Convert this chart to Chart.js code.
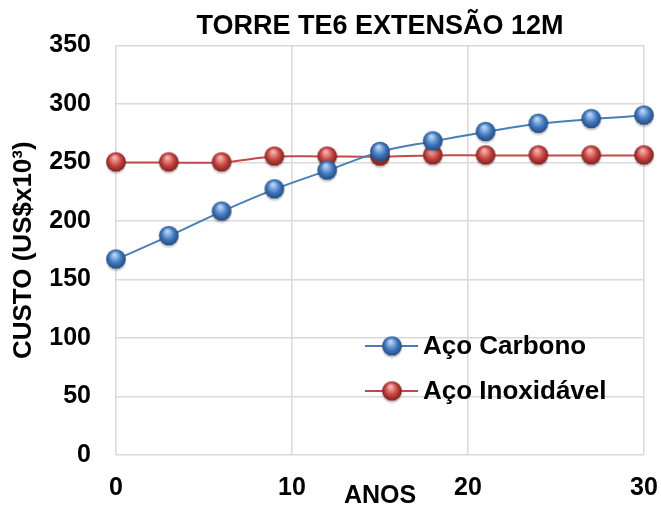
<!DOCTYPE html>
<html>
<head>
<meta charset="utf-8">
<script src="https://cdn.jsdelivr.net/npm/chart.js@4/dist/chart.umd.min.js"></script>
<style>
  body { margin: 0; background: #fff; }
  canvas { display: block; }
</style>
</head>
<body>
<canvas id="custoChart" width="661" height="506"></canvas>
<script>
// anos de operação e custo acumulado (US$ x 10³)
const anos = [0, 3, 6, 9, 12, 15, 18, 21, 24, 27, 30];
const acoCarbono = [167, 187, 208, 227, 243, 259, 268, 276, 283, 287, 290];
const acoInox = [250, 250, 250, 255, 255, 255, 256, 256, 256, 256, 256];
const seriesNames = ["Aço Carbono", "Aço Inoxidável"];
const xTicks = [0, 10, 20, 30];
const yTicks = [0, 50, 100, 150, 200, 250, 300, 350];

const FONT = "'Liberation Sans', Arial, sans-serif";

// bolinha com brilho, usada como marcador
function makeBall(light, base, dark) {
    const c = document.createElement("canvas");
    c.width = 26;
    c.height = 26;
    const g = c.getContext("2d");
    g.fillStyle = "rgba(0,0,0,0.16)";
    g.beginPath();
    g.arc(13, 14.5, 10.3, 0, Math.PI * 2);
    g.fill();
    const grad = g.createRadialGradient(11.5, 8, 1, 13, 12.5, 10.5);
    grad.addColorStop(0, light);
    grad.addColorStop(0.55, base);
    grad.addColorStop(1, dark);
    g.fillStyle = grad;
    g.beginPath();
    g.arc(13, 12.5, 9.8, 0, Math.PI * 2);
    g.fill();
    return c;
}

const blueBall = makeBall("#b9d3f3", "#3f78c0", "#1f4677");
const redBall = makeBall("#f3b3b1", "#c8403c", "#6e1f1d");

const lineColors = ["#4a7ebb", "#be4b48"];
const balls = [blueBall, redBall];

// legenda desenhada dentro da área do gráfico
const insideLegend = {
    id: "insideLegend",
    afterDraw(chart) {
        const ctx = chart.ctx;
        const rows = [346, 391];
        ctx.save();
        rows.forEach((y, i) => {
            ctx.strokeStyle = lineColors[i];
            ctx.lineWidth = 2;
            ctx.beginPath();
            ctx.moveTo(365, y);
            ctx.lineTo(418, y);
            ctx.stroke();
            ctx.drawImage(balls[i], 392 - 13, y - 12.5);
            ctx.fillStyle = "#000";
            ctx.font = "bold 26px " + FONT;
            ctx.textBaseline = "middle";
            ctx.fillText(seriesNames[i], 423, y + 1);
        });
        ctx.restore();
    }
};

const ctx = document.getElementById("custoChart").getContext("2d");

new Chart(ctx, {
    type: "line",
    data: {
        datasets: [
            {
                label: seriesNames[0],
                data: anos.map((a, i) => ({ x: a, y: acoCarbono[i] })),
                borderColor: lineColors[0],
                borderWidth: 2,
                tension: 0.35,
                pointStyle: blueBall,
                clip: false
            },
            {
                label: seriesNames[1],
                data: anos.map((a, i) => ({ x: a, y: acoInox[i] })),
                borderColor: lineColors[1],
                borderWidth: 2,
                tension: 0.35,
                pointStyle: redBall,
                clip: false
            }
        ]
    },
    options: {
        responsive: false,
        animation: false,
        layout: { padding: { left: 0, right: 17, top: 0, bottom: 0 } },
        plugins: {
            legend: { display: false },
            tooltip: { enabled: false },
            title: {
                display: true,
                text: "TORRE TE6 EXTENSÃO 12M",
                fullSize: false,
                color: "#000",
                font: { family: FONT, size: 27, weight: "bold", lineHeight: 1.2 },
                padding: { top: 10, bottom: 3 }
            }
        },
        scales: {
            x: {
                type: "linear",
                min: 0,
                max: 30,
                afterBuildTicks: s => { s.ticks = xTicks.map(v => ({ value: v })); },
                afterFit: s => {
                    s.height = 51;
                    s.paddingLeft = 0;
                    s.paddingRight = 0;
                },
                ticks: {
                    padding: 18,
                    maxRotation: 0,
                    color: "#000",
                    font: { family: FONT, size: 25, weight: "bold" }
                },
                grid: { color: "#d9d9d9", lineWidth: 1.5, drawTicks: false },
                border: { display: false },
                title: {
                    display: true,
                    text: "ANOS",
                    color: "#000",
                    font: { family: FONT, size: 25, weight: "bold", lineHeight: 1 },
                    padding: { top: 0, bottom: -3 }
                }
            },
            y: {
                min: 0,
                max: 350,
                afterBuildTicks: s => { s.ticks = yTicks.map(v => ({ value: v })); },
                afterFit: s => {
                    s.width = 116;
                    s.paddingTop = 0;
                    s.paddingBottom = 0;
                },
                ticks: {
                    padding: 25,
                    color: "#000",
                    font: { family: FONT, size: 25, weight: "bold" }
                },
                grid: { color: "#d9d9d9", lineWidth: 1.5, drawTicks: false },
                border: { display: false },
                title: {
                    display: true,
                    text: "CUSTO (US$x10³)",
                    color: "#000",
                    font: { family: FONT, size: 26, weight: "bold", lineHeight: 1.2 },
                    padding: { top: 8, bottom: 0 }
                }
            }
        }
    },
    plugins: [insideLegend]
});
</script>
</body>
</html>
